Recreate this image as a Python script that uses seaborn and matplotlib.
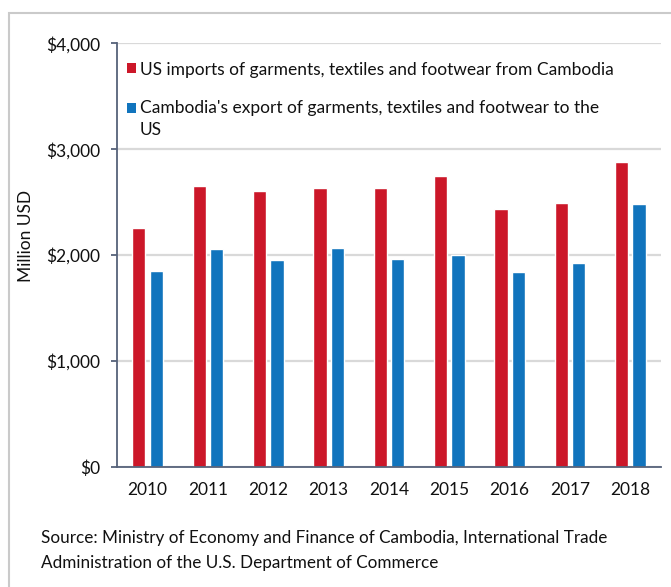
import matplotlib
matplotlib.use("Agg")
import matplotlib.pyplot as plt
import seaborn as sns
import pandas as pd
from matplotlib.patches import Rectangle
from matplotlib.ticker import FuncFormatter, FixedLocator

# Annual values, million USD
years = ["2010", "2011", "2012", "2013", "2014", "2015", "2016", "2017", "2018"]
us_imports = [2252, 2657, 2610, 2638, 2635, 2745, 2431, 2491, 2877]
cambodia_exports = [1849, 2054, 1953, 2069, 1962, 2006, 1837, 1922, 2481]
series_names = [
    "US imports of garments, textiles and footwear from Cambodia",
    "Cambodia's export of garments, textiles and footwear to the\nUS",
]
y_ticks = [0, 1000, 2000, 3000, 4000]
source_lines = [
    "Source: Ministry of Economy and Finance of Cambodia, International Trade",
    "Administration of the U.S. Department of Commerce",
]

palette = ["#CC1729", "#1174BD"]
axis_color = "#56627A"
grid_color = "#D9D9D9"

df = pd.DataFrame({
    "year": years * 2,
    "value": us_imports + cambodia_exports,
    "series": [series_names[0]] * len(years) + [series_names[1]] * len(years),
})

sns.set_theme(style="white")
plt.rcParams["font.family"] = ["Lato", "DejaVu Sans"]
FS = 12.5

W, H = 671, 587
fig = plt.figure(figsize=(W / 100, H / 100), dpi=100)
ax = fig.add_axes([117.3 / W, 120 / H, 543.3 / W, 423.7 / H])

sns.barplot(data=df, x="year", y="value", hue="series", hue_order=series_names,
            palette=palette, saturation=1, width=0.576, gap=0.236,
            legend=False, ax=ax)

ax.set_ylim(0, 4000)
ax.set_xlim(-0.5, len(years) - 0.5)
ax.yaxis.set_major_locator(FixedLocator(y_ticks))
ax.yaxis.set_major_formatter(FuncFormatter(lambda v, _: f"${v:,.0f}"))
ax.yaxis.grid(True, color=grid_color, lw=1.6)
ax.set_axisbelow(True)

for side in ("top", "right"):
    ax.spines[side].set_visible(False)
for side in ("left", "bottom"):
    ax.spines[side].set_color(axis_color)
    ax.spines[side].set_linewidth(1.3)

# category labels centred, tick marks between categories
ax.set_xticks(range(len(years)))
ax.set_xticklabels(years)
ax.set_xticks([i - 0.5 for i in range(len(years) + 1)], minor=True)
ax.tick_params(axis="x", which="major", length=0, pad=11, labelsize=FS, labelcolor="#111111")
ax.tick_params(axis="x", which="minor", length=4.5, width=1.3, color=axis_color, direction="out")
ax.tick_params(axis="y", length=4.3, width=1.3, color=axis_color, pad=8, labelsize=FS,
               labelcolor="#111111", left=True)

ax.set_xlabel("")
ax.set_ylabel("Million USD", fontsize=FS, color="#111111")
ax.yaxis.set_label_coords(-0.153, 0.546)

handles = [Rectangle((0, 0), 1, 1, facecolor=c, edgecolor="none") for c in palette]
leg = ax.legend(handles, series_names, loc="upper left", bbox_to_anchor=(0.0173, 0.957),
                frameon=False, fontsize=FS, handlelength=0.52, handleheight=0.52,
                handletextpad=0.22, labelspacing=1.31, borderpad=0, borderaxespad=0)
for t in leg.get_texts():
    t.set_color("#111111")
    t.set_linespacing(1.45)
# keep the blue marker level with the first line of its two-line label
blue = leg.legend_handles[1]
blue.set_y(blue.get_y() + 8.2)

for i, line in enumerate(source_lines):
    fig.text(40.7 / W, 1 - (538 + 25 * i) / H, line, fontsize=12.3, color="#111111",
             va="center", ha="left")

# chart frame
fig.add_artist(Rectangle((9 / W, -0.1), 1.2, 1.1 - 13 / H, transform=fig.transFigure,
                         fill=False, edgecolor="#CACACA", lw=1.5))

fig.savefig("out.png", dpi=100)
